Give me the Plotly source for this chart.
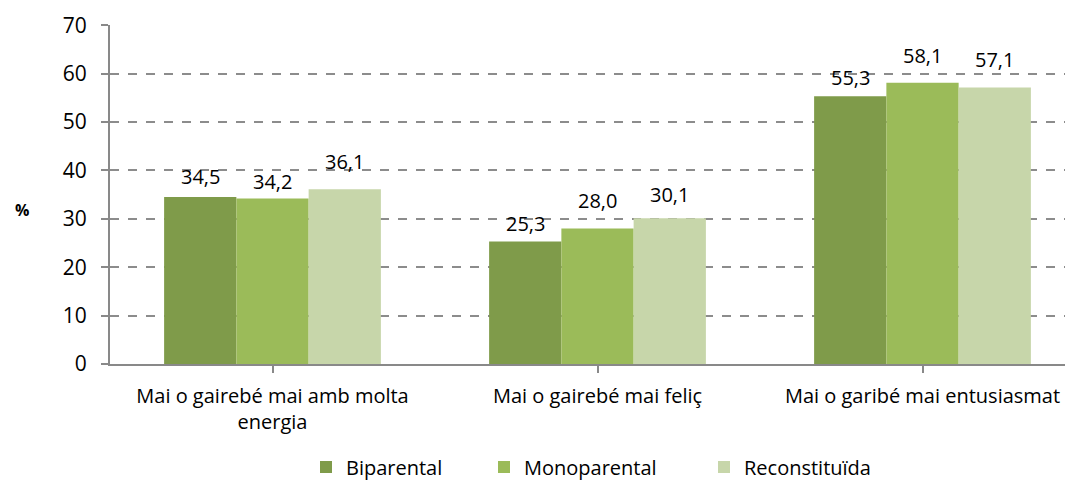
import plotly.graph_objects as go

categories = ["Mai o gairebé mai amb molta<br>energia", "Mai o gairebé mai feliç", "Mai o garibé mai entusiasmat"]
series_names = ["Biparental", "Monoparental", "Reconstituïda"]
biparental = [34.5, 25.3, 55.3]
monoparental = [34.2, 28.0, 58.1]
reconstituida = [36.1, 30.1, 57.1]
colors = ["#7F9B4A", "#9BBB59", "#C7D6AA"]
y_ticks = [0, 10, 20, 30, 40, 50, 60, 70]
# pixel gap between each data label and its bar top, as placed in the original
label_gap_px = [[11, 7, 18], [9, 18, 14], [9, 18, 19]]
# left edge (page px) of each legend entry
legend_left_px = [306, 484, 704]

OFF = 8  # page body margin
W, H = 1073 - 2 * OFF, 489 - 2 * OFF
L, R, T, B = 110 - OFF, 0, 25 - OFF, H - (364.5 - OFF)
CAT_PX = 325.0
BARGAP = 0.333
bar_w = (1 - BARGAP) / 3

fig = go.Figure()
annotations = []
legend_ids = ["legend", "legend2", "legend3"]
for si, (name, vals, col) in enumerate(zip(series_names, [biparental, monoparental, reconstituida], colors)):
    fig.add_trace(go.Bar(
        name=name, x=list(range(len(categories))), y=vals,
        marker=dict(color=col, line=dict(width=0)),
        legend=legend_ids[si],
    ))
    for ci, v in enumerate(vals):
        annotations.append(dict(
            x=ci + (si - 1) * bar_w, y=v, xref="x", yref="y",
            text=f"{v:.1f}".replace(".", ","), showarrow=False,
            xanchor="center", yanchor="bottom",
            yshift=label_gap_px[ci][si] - 6,
            font=dict(size=20, color="#000000"),
        ))

annotations.append(dict(text="<b>%</b>", xref="paper", yref="paper",
                        x=(22 - 110) / (W - L - R), y=0.455, showarrow=False,
                        xanchor="center", yanchor="middle",
                        font=dict(size=16)))

legend_common = dict(orientation="h", xanchor="left", xref="container",
                     y=1 - (467 - OFF) / H, yanchor="middle", yref="container",
                     font=dict(size=20), bgcolor="rgba(0,0,0,0)")
legends = {}
for lid, lx in zip(legend_ids, legend_left_px):
    legends[lid] = dict(legend_common, x=(lx - OFF) / W)

fig.update_layout(
    width=W, height=H,
    margin=dict(l=L, r=R, t=T, b=B, autoexpand=False),
    plot_bgcolor="white", paper_bgcolor="white",
    barmode="group", bargap=BARGAP, bargroupgap=0,
    font=dict(family="Open Sans", size=20, color="#000000"),
    showlegend=True,
    xaxis=dict(
        tickmode="array", tickvals=list(range(len(categories))), ticktext=categories,
        range=[-0.5, -0.5 + (W - L - R) / CAT_PX],
        showline=True, linecolor="#898989", linewidth=2,
        ticks="outside", tickson="boundaries", ticklen=7, tickcolor="#898989", tickwidth=2,
        showgrid=False, zeroline=False, tickfont=dict(size=20), ticklabelstandoff=6,
        ticklabeloverflow="allow",
    ),
    yaxis=dict(
        range=[0, 70.03], tickvals=y_ticks,
        showline=True, linecolor="#898989", linewidth=2,
        ticks="outside", ticklen=7, tickcolor="#898989", tickwidth=2,
        showgrid=True, gridcolor="#8C8C8C", griddash="dash", gridwidth=1.5,
        zeroline=False, tickfont=dict(size=21), ticklabelstandoff=10,
    ),
    annotations=annotations,
    **legends,
)

fig.write_html("out.html")
